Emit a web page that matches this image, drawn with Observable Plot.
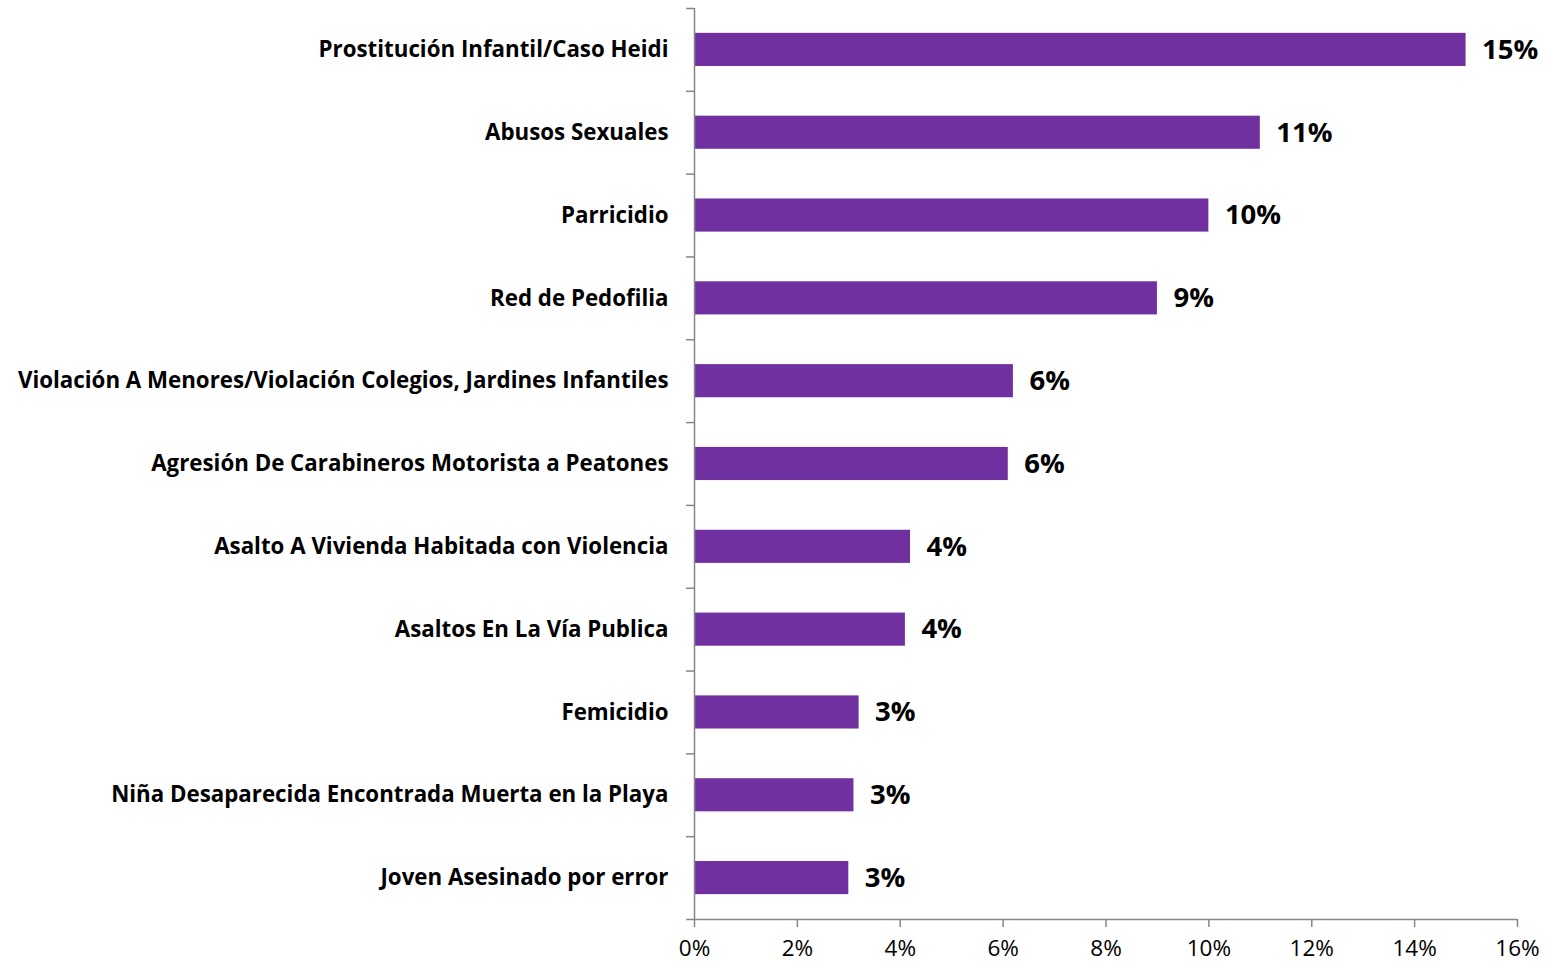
<!DOCTYPE html>
<html>
<head>
<meta charset="utf-8">
<script src="https://cdn.jsdelivr.net/npm/d3@7"></script>
<script src="https://cdn.jsdelivr.net/npm/@observablehq/plot@0.6"></script>
<style>
  html, body { margin: 0; padding: 0; background: #fff; }
  #chart svg { display: block; }
</style>
</head>
<body>
<div id="chart"></div>
<script>
const categories = [
  "Prostitución Infantil/Caso Heidi",
  "Abusos Sexuales",
  "Parricidio",
  "Red de Pedofilia",
  "Violación A Menores/Violación Colegios, Jardines Infantiles",
  "Agresión De Carabineros Motorista a Peatones",
  "Asalto A Vivienda Habitada con Violencia",
  "Asaltos En La Vía Publica",
  "Femicidio",
  "Niña Desaparecida Encontrada Muerta en la Playa",
  "Joven Asesinado por error"
];
const values = [0.150, 0.110, 0.100, 0.090, 0.062, 0.061, 0.042, 0.041, 0.032, 0.031, 0.030];
const xTicks = [0, 0.02, 0.04, 0.06, 0.08, 0.10, 0.12, 0.14, 0.16];

const data = categories.map((c, i) => ({category: c, value: values[i], idx: i}));
const font = "'Open Sans', Lato, sans-serif";
const axisColor = "#868686";

const chart = Plot.plot({
  width: 1546,
  height: 966,
  marginLeft: 694,
  marginRight: 29,
  marginTop: 8,
  marginBottom: 47,
  style: {fontFamily: font, background: "#fff", color: "#000"},
  x: {domain: [0, 0.16], axis: null},
  y: {domain: [0, categories.length], range: [8, 919], axis: null},
  marks: [
    Plot.rectX(data, {
      x1: 0, x2: "value",
      y1: d => d.idx + 0.3, y2: d => d.idx + 0.7,
      fill: "#7030A0"
    }),
    Plot.ruleX([0], {stroke: axisColor, strokeWidth: 1.5}),
    Plot.ruleY([categories.length], {stroke: axisColor, strokeWidth: 1.5}),
    Plot.axisY({
      ticks: d3.range(categories.length + 1),
      tickFormat: () => "",
      tickSize: 8,
      stroke: axisColor,
      strokeWidth: 1.5,
      label: null
    }),
    Plot.axisX({
      ticks: xTicks,
      tickFormat: d3.format(".0%"),
      tickSize: 8,
      tickPadding: 13,
      stroke: axisColor,
      strokeWidth: 1.5,
      fontSize: 22.5,
      fill: "#000",
      label: null
    }),
    Plot.text(data, {
      x: 0,
      y: d => d.idx + 0.5,
      text: "category",
      textAnchor: "end",
      dx: -26,
      fontSize: 22.3,
      fontWeight: "bold",
      fill: "#000"
    }),
    Plot.text(data, {
      x: "value",
      y: d => d.idx + 0.5,
      text: d => d3.format(".0%")(d.value),
      textAnchor: "start",
      dx: 16,
      fontSize: 27.5,
      fontWeight: "bold",
      fill: "#000"
    })
  ]
});
document.getElementById("chart").appendChild(chart);
</script>
</body>
</html>
